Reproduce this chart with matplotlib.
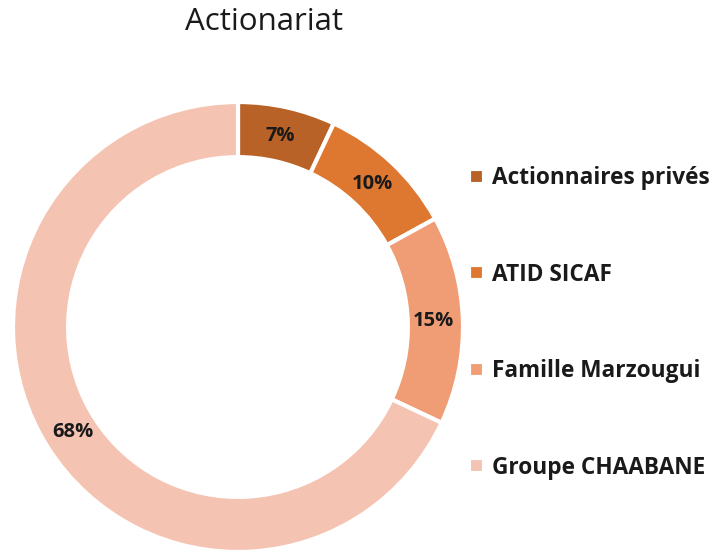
import matplotlib
matplotlib.use("Agg")
import matplotlib.pyplot as plt

categories = ["Actionnaires privés", "ATID SICAF", "Famille Marzougui", "Groupe CHAABANE"]
values = [7, 10, 15, 68]
colors = ["#B86228", "#DE7830", "#F09C74", "#F5C3B1"]
title = "Actionariat"

W, H = 719, 554
fig = plt.figure(figsize=(W / 100, H / 100), dpi=100)
cx, cy, R = 238, 327, 225
ax = fig.add_axes([(cx - R) / W, (H - cy - R) / H, 2 * R / W, 2 * R / H])

wedges, texts, autotexts = ax.pie(
    values, colors=colors, startangle=90, counterclock=False, radius=1,
    autopct=lambda p: f"{p:.0f}%", pctdistance=0.87,
    wedgeprops=dict(width=0.245, edgecolor="white", linewidth=3),
    textprops=dict(fontsize=14.5, fontweight="bold", color="#1a1a1a", family="Open Sans"),
)
ax.set_xlim(-1.0, 1.0)
ax.set_ylim(-1.0, 1.0)
ax.set_aspect("equal")
ax.axis("off")

fig.text(264 / W, 1 - 22 / H, title, ha="center", va="center", fontsize=22.5,
         family="Open Sans", color="#1a1a1a")

leg = fig.legend(wedges, categories, loc="center left", bbox_to_anchor=(449 / W, 1 - 323 / H),
                 frameon=False, handlelength=0.65, handleheight=0.65, handletextpad=0.35,
                 labelspacing=3.2, prop=dict(family="Open Sans", weight="bold", size=16.3))
for t in leg.get_texts():
    t.set_color("#1a1a1a")

fig.savefig("out.png", dpi=100)
